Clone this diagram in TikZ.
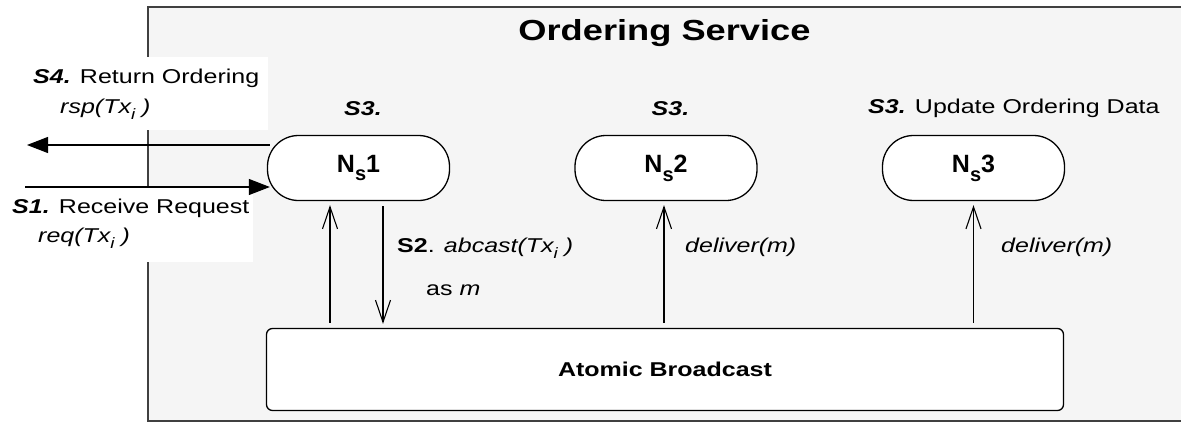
\documentclass[tikz,border=0pt]{standalone}
\usepackage{fontspec}
\setmainfont{Liberation Sans}[FakeStretch=1.25]
\newfontfamily\plainsans{Liberation Sans}
\usetikzlibrary{arrows.meta}

% lowered index, as in Tx_i
\newcommand\lowsub[1]{\raisebox{-0.3em}{\fontsize{15}{15}\selectfont #1}}
% ordering-service member name N_s<k>
\newcommand\nsname[1]{{\plainsans\bfseries\fontsize{25}{25}\selectfont N\raisebox{-0.35em}{\fontsize{20}{20}\selectfont s}#1}}

\begin{document}
\begin{tikzpicture}[x=1pt,y=-1pt,
  service/.style={fill=black!4, draw=black!75, line width=1.3pt},
  member/.style={draw, line width=1.3pt, fill=white, rounded corners=31pt,
    minimum width=182pt, minimum height=65pt, inner sep=0pt},
  bcast/.style={draw, line width=1.3pt, fill=white, rounded corners=6pt,
    minimum width=797pt, minimum height=82pt, inner sep=0pt,
    font=\bfseries\fontsize{20}{24}\selectfont},
  txt/.style={inner sep=0pt, anchor=base west, font=\fontsize{20}{24}\selectfont},
  msg/.style={line width=1.1pt, -{Triangle[length=21pt,width=16pt]}},
  updown/.style={line width=1.1pt, -{Straight Barb[length=22pt,width=15pt]},
    shorten >=4pt, shorten <=5pt}]

\useasboundingbox (0,0) rectangle (1181,423);
\fill[white] (0,0) rectangle (1181,423);

% service frame (open to the right)
\draw[service] (148,7) rectangle (1210,421);

% white backgrounds of the client-side labels
\fill[white] (0,57) rectangle (268,130);
\fill[white] (0,188) rectangle (253,262);

\node[anchor=base, inner sep=0pt, font=\bfseries\fontsize{29}{29}\selectfont] (title) at (664.5,40) {Ordering Service};

% members and the broadcast layer
\node[member] (n1) at (358.5,168) {\nsname{1}};
\node[member] (n2) at (666,168) {\nsname{2}};
\node[member] (n3) at (973.5,168) {\nsname{3}};
\node[bcast] (ab) at (665,369.5) {Atomic Broadcast};

% client request / response
\coordinate (rspend) at (27,145);
\coordinate (reqstart) at (25,187);
\draw[msg] ([shift={(3pt,23pt)}]n1.west) -- (rspend);
\draw[msg] (reqstart) -- ([shift={(3pt,-19pt)}]n1.west);

% broadcast and delivery
\draw[updown] ([xshift=-28.5pt]n1.south |- ab.north) -- ([xshift=-28.5pt]n1.south);
\draw[updown] ([xshift=24.5pt]n1.south) -- ([xshift=24.5pt]n1.south |- ab.north);
\draw[updown] ([xshift=-2pt]n2.south |- ab.north) -- ([xshift=-2pt]n2.south);
\draw[updown] (n3.south |- ab.north) -- (n3.south);

% labels
\node[txt] (s4a) at (33,83) {\textbf{\textit{S4.}} Return Ordering};
\node[txt] (s4b) at (60,113) {\textit{rsp(Tx\lowsub{i} )}};
\node[txt] (s1a) at (12,213) {\textbf{\textit{S1.}} Receive Request};
\node[txt] (s1b) at (38,242) {\textit{req(Tx\lowsub{i} )}};
\node[txt, anchor=base] (s3a) at (363,115) {\textbf{\textit{S3.}}};
\node[txt, anchor=base] (s3b) at (670.5,115) {\textbf{\textit{S3.}}};
\node[txt] (s3c) at (868,113) {\textbf{\textit{S3.}} Update Ordering Data};
\node[txt] (s2a) at (397,252) {\textbf{S2}. \textit{abcast(Tx\lowsub{i} )}};
\node[txt] (s2b) at (426,295) {as \textit{m}};
\node[txt] (d2) at (685,252) {\textit{deliver(m)}};
\node[txt] (d3) at (1001,252) {\textit{deliver(m)}};
\end{tikzpicture}
\end{document}
